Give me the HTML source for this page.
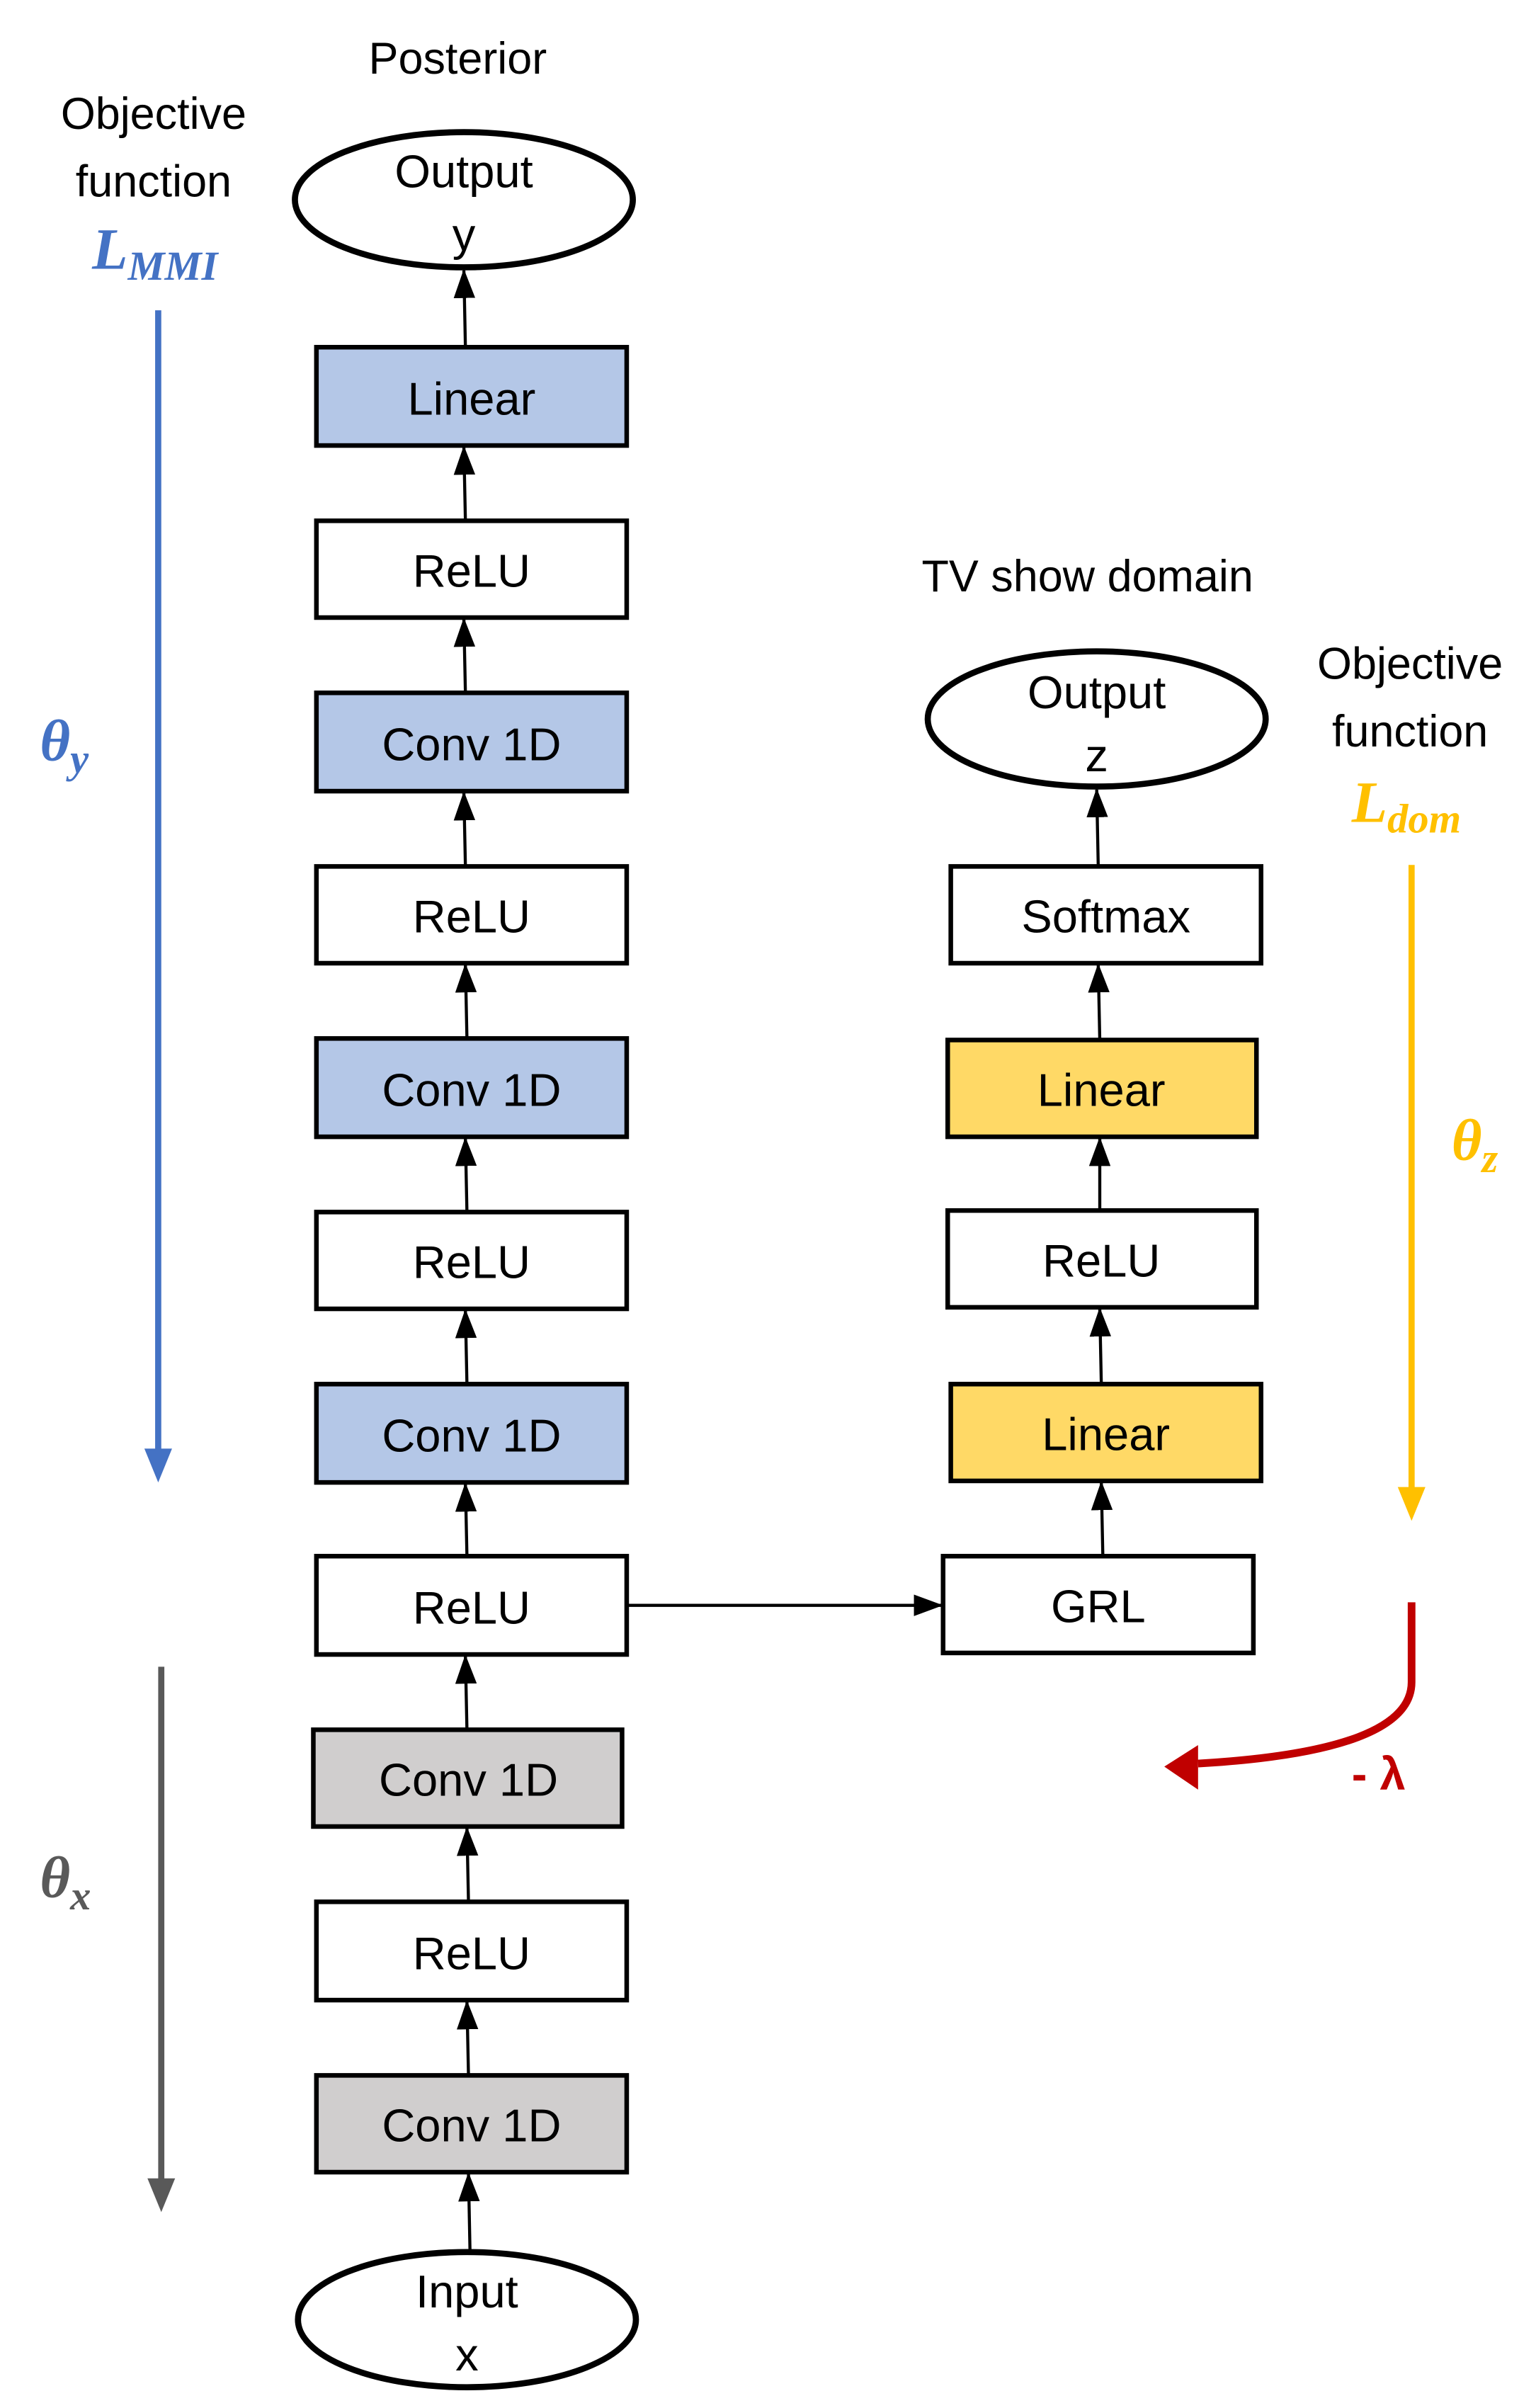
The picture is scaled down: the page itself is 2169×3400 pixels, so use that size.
<!DOCTYPE html>
<html><head><meta charset="utf-8"><style>
html,body{margin:0;padding:0;background:#fff;}
svg{display:block;}
text{font-family:"Liberation Sans","DejaVu Sans",sans-serif;}
.m{font-family:"Liberation Serif",serif;font-weight:bold;font-style:italic;}
</style></head><body>
<svg width="2169" height="3400" viewBox="0 0 1000 1567.5" xmlns="http://www.w3.org/2000/svg">
<defs>
<marker id="a" markerWidth="19" markerHeight="14" refX="18" refY="7" orient="auto" markerUnits="userSpaceOnUse" viewBox="0 0 19 14"><path d="M0,0 L19,7 L0,14z" fill="#000"/></marker>
</defs>
<g font-size="29" text-anchor="middle" style="fill:#000">
<text x="298" y="48">Posterior</text>
<text x="100" y="84">Objective</text>
<text x="100" y="128">function</text>
<text x="708" y="385">TV show domain</text>
<text x="918" y="442">Objective</text>
<text x="918" y="486">function</text>
</g>
<text class="m" x="60" y="175" font-size="38" style="fill:#4472c4">L<tspan font-size="27" dy="7">MMI</tspan></text>
<text class="m" x="880" y="535" font-size="38" style="fill:#ffc000">L<tspan font-size="27" dy="7">dom</tspan></text>
<text class="m" x="26" y="495" font-size="38" style="fill:#4472c4">θ<tspan font-size="27" dy="8">y</tspan></text>
<text class="m" x="26" y="1235" font-size="38" style="fill:#595959">θ<tspan font-size="27" dy="8">x</tspan></text>
<text class="m" x="945" y="755" font-size="38" style="fill:#ffc000">θ<tspan font-size="27" dy="8">z</tspan></text>
<text x="880" y="1165" font-size="30" font-weight="bold" style="fill:#c00000">- λ</text>

<line x1="103" y1="202" x2="103" y2="945" stroke="#4472c4" stroke-width="4"/>
<path d="M94,943 L112,943 L103,965z" fill="#4472c4"/>
<line x1="105" y1="1085" x2="105" y2="1420" stroke="#595959" stroke-width="4"/>
<path d="M96,1418 L114,1418 L105,1440z" fill="#595959"/>
<line x1="919" y1="563" x2="919" y2="970" stroke="#ffc000" stroke-width="4"/>
<path d="M910,968 L928,968 L919,990z" fill="#ffc000"/>
<path d="M919,1043 L919,1095 Q919,1140 780,1148" stroke="#c00000" stroke-width="5" fill="none"/>
<path d="M780,1136 L758,1150 L780,1165z" fill="#c00000"/>

<g stroke="#000" stroke-width="3">
<ellipse cx="302" cy="130" rx="110" ry="44" fill="#fff" stroke-width="4"/>
<ellipse cx="304" cy="1510" rx="110" ry="44" fill="#fff" stroke-width="4"/>
<ellipse cx="714" cy="468" rx="110" ry="44" fill="#fff" stroke-width="4"/>
<rect x="206" y="226" width="202" height="64" fill="#b4c7e7"/>
<rect x="206" y="339" width="202" height="63" fill="#fff"/>
<rect x="206" y="451" width="202" height="64" fill="#b4c7e7"/>
<rect x="206" y="564" width="202" height="63" fill="#fff"/>
<rect x="206" y="676" width="202" height="64" fill="#b4c7e7"/>
<rect x="206" y="789" width="202" height="63" fill="#fff"/>
<rect x="206" y="901" width="202" height="64" fill="#b4c7e7"/>
<rect x="206" y="1013" width="202" height="64" fill="#fff"/>
<rect x="204" y="1126" width="201" height="63" fill="#d0cece"/>
<rect x="206" y="1238" width="202" height="64" fill="#fff"/>
<rect x="206" y="1351" width="202" height="63" fill="#d0cece"/>
<rect x="619" y="564" width="202" height="63" fill="#fff"/>
<rect x="617" y="677" width="201" height="63" fill="#ffd966"/>
<rect x="617" y="788" width="201" height="63" fill="#fff"/>
<rect x="619" y="901" width="202" height="63" fill="#ffd966"/>
<rect x="614" y="1013" width="202" height="63" fill="#fff"/>
</g>
<g stroke="#000" stroke-width="2" marker-end="url(#a)">
<line x1="303" y1="226" x2="302" y2="176"/>
<line x1="303" y1="339" x2="302" y2="291"/>
<line x1="303" y1="451" x2="302" y2="403"/>
<line x1="303" y1="564" x2="302" y2="516"/>
<line x1="304" y1="676" x2="303" y2="628"/>
<line x1="304" y1="789" x2="303" y2="741"/>
<line x1="304" y1="901" x2="303" y2="853"/>
<line x1="304" y1="1013" x2="303" y2="966"/>
<line x1="304" y1="1126" x2="303" y2="1078"/>
<line x1="305" y1="1238" x2="304" y2="1190"/>
<line x1="305" y1="1351" x2="304" y2="1303"/>
<line x1="306" y1="1466" x2="305" y2="1415"/>
<line x1="715" y1="564" x2="714" y2="514"/>
<line x1="716" y1="677" x2="715" y2="628"/>
<line x1="716" y1="788" x2="716" y2="741"/>
<line x1="717" y1="901" x2="716" y2="852"/>
<line x1="718" y1="1013" x2="717" y2="965"/>
<line x1="408" y1="1045" x2="613" y2="1045"/>
</g>
<g font-size="30" text-anchor="middle" style="fill:#000">
<text x="302" y="122">Output</text>
<text x="302" y="163">y</text>
<text x="304" y="1502">Input</text>
<text x="304" y="1543">x</text>
<text x="714" y="461">Output</text>
<text x="714" y="502">z</text>
<text x="307" y="270">Linear</text>
<text x="307" y="382">ReLU</text>
<text x="307" y="495">Conv 1D</text>
<text x="307" y="607">ReLU</text>
<text x="307" y="720">Conv 1D</text>
<text x="307" y="832">ReLU</text>
<text x="307" y="945">Conv 1D</text>
<text x="307" y="1057">ReLU</text>
<text x="305" y="1169">Conv 1D</text>
<text x="307" y="1282">ReLU</text>
<text x="307" y="1394">Conv 1D</text>
<text x="720" y="607">Softmax</text>
<text x="717" y="720">Linear</text>
<text x="717" y="831">ReLU</text>
<text x="720" y="944">Linear</text>
<text x="715" y="1056">GRL</text>
</g>
</svg>
</body></html>
